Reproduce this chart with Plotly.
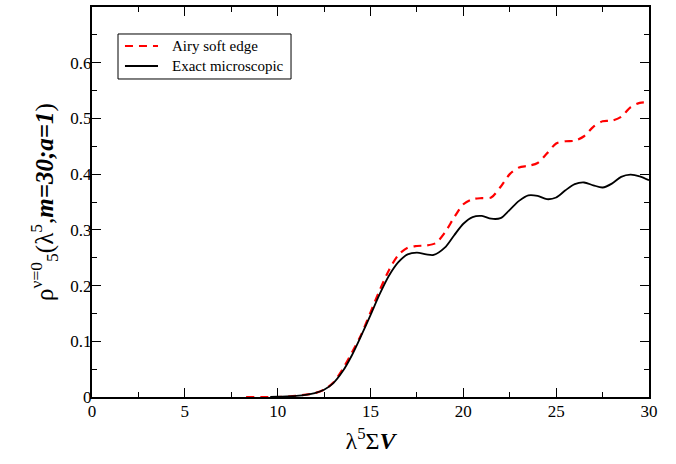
import plotly.graph_objects as go

# Exact microscopic (black solid)
x_exact = [9.6, 10, 11, 12, 12.5, 13, 13.5, 14, 14.5, 15, 15.5, 16, 16.5, 17, 17.5, 18, 18.4,
           19, 19.5, 20, 20.5, 21, 21.5, 22, 22.5, 23, 23.5, 24, 24.5, 25, 25.5, 26, 26.5,
           27, 27.5, 28, 28.5, 29, 29.5, 30]
y_exact = [0.0, 0.0005, 0.002, 0.007, 0.013, 0.025, 0.046, 0.075, 0.11, 0.147, 0.185, 0.218,
           0.242, 0.256, 0.259, 0.256, 0.255, 0.268, 0.29, 0.311, 0.323, 0.325, 0.32, 0.321,
           0.336, 0.352, 0.362, 0.361, 0.355, 0.358, 0.371, 0.382, 0.385, 0.38, 0.376, 0.383,
           0.395, 0.399, 0.396, 0.389]

# Airy soft edge (red dashed)
x_airy = [8.3, 10, 11, 12, 12.5, 13, 13.5, 14, 14.5, 15, 15.5, 16, 16.5, 17, 17.5, 18, 18.5,
          19, 19.5, 20, 20.5, 21, 21.5, 22, 22.5, 23, 23.5, 24, 24.5, 25, 25.5, 26, 26.5,
          27, 27.5, 28, 28.5, 29, 29.5, 30]
y_airy = [0.0, 0.0, 0.002, 0.007, 0.013, 0.026, 0.05, 0.08, 0.112, 0.152, 0.192, 0.228,
          0.255, 0.268, 0.271, 0.272, 0.276, 0.295, 0.322, 0.346, 0.355, 0.357, 0.358, 0.377,
          0.4, 0.412, 0.415, 0.42, 0.437, 0.455, 0.459, 0.46, 0.468, 0.485, 0.495, 0.496,
          0.503, 0.52, 0.528, 0.529]

series_names = ["Airy soft edge", "Exact microscopic"]

x_ticks = [0, 5, 10, 15, 20, 25, 30]
y_ticks = [0, 0.1, 0.2, 0.3, 0.4, 0.5, 0.6]
y_tick_labels = ["0", "0.1", "0.2", "0.3", "0.4", "0.5", "0.6"]

FONT = "Liberation Serif"
RED_DASH = "8px,6px"

fig = go.Figure()
fig.add_trace(go.Scatter(
    x=x_airy, y=y_airy, mode="lines", name=series_names[0], showlegend=False,
    line=dict(color="#ff0000", width=2.2, dash=RED_DASH, shape="spline", smoothing=0.8),
))
fig.add_trace(go.Scatter(
    x=x_exact, y=y_exact, mode="lines", name=series_names[1], showlegend=False,
    line=dict(color="#000000", width=1.8, shape="spline", smoothing=0.8),
))

axis_common = dict(
    showline=True, linecolor="black", linewidth=2, mirror="ticks",
    ticks="inside", ticklen=9, tickwidth=1.2, tickcolor="black",
    showgrid=False, zeroline=False, automargin=False,
    tickfont=dict(family=FONT, size=17, color="black"),
)

fig.update_xaxes(
    range=[0, 30], tickvals=x_ticks, ticktext=[str(v) for v in x_ticks],
    minor=dict(ticks="inside", ticklen=5, tickwidth=1.2, tickcolor="black", dtick=2.5, showgrid=False),
    title=dict(text="λ<sup>5</sup>Σ<b><i>V</i></b>", font=dict(family=FONT, size=24, color="black"), standoff=12),
    ticklabelstandoff=-2,
    **axis_common,
)
fig.update_yaxes(
    range=[0, 0.7], tickvals=y_ticks, ticktext=y_tick_labels,
    minor=dict(ticks="inside", ticklen=5, tickwidth=1.2, tickcolor="black", dtick=0.05, showgrid=False),
    title=dict(text="ρ<sup>ν=0</sup><sub>5</sub>(λ<sup>5</sup>,<b><i>m=30;a=1</i></b>)",
               font=dict(family=FONT, size=25, color="black"), standoff=10),
    ticklabelstandoff=-5,
    **axis_common,
)

# Manual legend box (paper coordinates of the plot area)
box_x0, box_x1, box_y0, box_y1 = 0.0467, 0.3573, 0.8154, 0.9308
row_y = [0.9000, 0.8487]
line_x0, line_x1, text_x = 0.0592, 0.1185, 0.140
shapes = [dict(type="rect", xref="paper", yref="paper", x0=box_x0, x1=box_x1, y0=box_y0, y1=box_y1,
               line=dict(color="black", width=1), fillcolor="white", layer="above")]
styles = [dict(color="#ff0000", width=2.2, dash=RED_DASH), dict(color="black", width=1.8)]
annotations = []
for name, ry, st in zip(series_names, row_y, styles):
    shapes.append(dict(type="line", xref="paper", yref="paper", x0=line_x0, x1=line_x1, y0=ry, y1=ry,
                       line=st, layer="above"))
    annotations.append(dict(text=name, xref="paper", yref="paper", x=text_x, y=ry,
                            xanchor="left", yanchor="middle", showarrow=False,
                            font=dict(family=FONT, size=15, color="black")))

fig.update_layout(
    width=676, height=464,
    margin=dict(l=92, r=27, t=7, b=67),
    paper_bgcolor="white", plot_bgcolor="white",
    font=dict(family=FONT, color="black"),
    shapes=shapes, annotations=annotations,
)

fig.write_html("out.html", config={"displayModeBar": False},
               post_script="document.body.style.margin='0px';")
